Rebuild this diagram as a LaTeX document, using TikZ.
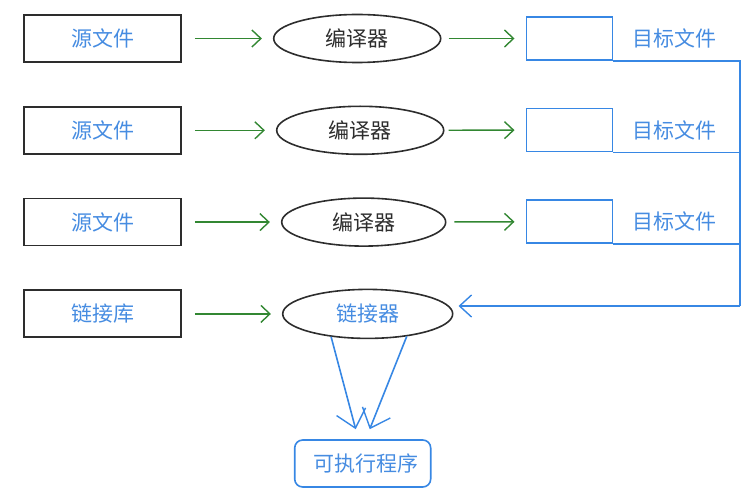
\documentclass[tikz,border=0pt]{standalone}
\usepackage{fontspec}
\setmainfont{Noto Sans CJK SC}
\usetikzlibrary{arrows.meta,positioning,shapes.geometric}

\definecolor{txtblue}{RGB}{70,140,225}
\definecolor{lineblue}{RGB}{55,135,228}
\definecolor{arrgreen}{RGB}{50,135,50}
\definecolor{inkgray}{RGB}{45,45,45}

\begin{document}
\begin{tikzpicture}[
    x=1pt,y=-1pt,
    font=\fontsize{21}{24}\selectfont,
    node distance=43pt and 91pt,
    srcbox/.style={draw=inkgray,line width=1.8pt,text=txtblue,minimum width=157pt,minimum height=47pt},
    tool/.style={draw=inkgray,ellipse,line width=1.6pt,inner sep=0pt,minimum width=167pt,minimum height=48pt},
    objbox/.style={draw=lineblue,line width=1.6pt,minimum width=86pt,minimum height=43pt},
    lbl/.style={text=txtblue,inner sep=2pt},
    garrow/.style={draw=arrgreen,line width=1.4pt,-{Straight Barb[length=9pt,width=17pt,line width=1.4pt]},shorten <=13pt,shorten >=11pt},
    bline/.style={draw=lineblue,line width=1.6pt},
    barrow/.style={bline,-{Straight Barb[length=12pt,width=22pt,line width=1.4pt]}}
]
\useasboundingbox (0,0) rectangle (753,489);

\node[srcbox] (srcA) at (102.5,38.5) {源文件};
\node[srcbox,below=of srcA] (srcB) {源文件};
\node[srcbox,below=of srcB] (srcC) {源文件};
\node[srcbox,below=of srcC] (lib) {链接库};

\node[tool,right=of srcA,text=inkgray] (compA) {编译器};
\node[tool,right=94pt of srcB,text=inkgray] (compB) {编译器};
\node[tool,right=99pt of srcC,text=inkgray,minimum width=164pt] (compC) {编译器};
\node[tool,right=100pt of lib,text=txtblue,minimum width=170pt,minimum height=49pt] (linker) {链接器};

\node[objbox,right=84pt of compA] (objA) {};
\node[objbox,below=47pt of objA] (objB) {};
\node[objbox,below=47pt of objB] (objC) {};
\node[lbl,right=17pt of objA] (lblA) {目标文件};
\node[lbl,right=17pt of objB] (lblB) {目标文件};
\node[lbl,right=17pt of objC] (lblC) {目标文件};

\node[draw=lineblue,line width=1.6pt,rounded corners=8pt,text=txtblue,minimum width=136pt,minimum height=47pt,below=100pt of linker,xshift=-5pt] (exe) {\hspace{6pt}可执行程序};

\coordinate (busBot) at (740,306);

\draw[garrow] (srcA) -- (compA);
\draw[garrow] (srcB) -- (compB);
\draw[garrow] (srcC) -- (compC);
\draw[garrow] (lib) -- (linker);

\draw[garrow,shorten <=7pt] (compA) -- (objA);
\draw[garrow,shorten <=4pt] (compB) -- (objB);
\draw[garrow,shorten <=8pt] (compC) -- (objC);

% object files collected into the linker
\draw[bline] (objA.south east) -- (objA.south east -| busBot) -- (busBot);
\draw[bline] (objB.south east) -- (objB.south east -| busBot);
\draw[bline] (objC.south east) -- (objC.south east -| busBot);
\draw[barrow,shorten >=5pt] (busBot) -- (busBot -| linker.east);

\draw[barrow,-{Straight Barb[length=17pt,width=30pt,line width=1.4pt]}] (linker.-148) -- ([xshift=-7pt,yshift=10pt]exe.north);
\draw[barrow,-{Straight Barb[length=17pt,width=30pt,line width=1.4pt]}] (linker.-30) -- ([xshift=7pt,yshift=10pt]exe.north);

\end{tikzpicture}
\end{document}
